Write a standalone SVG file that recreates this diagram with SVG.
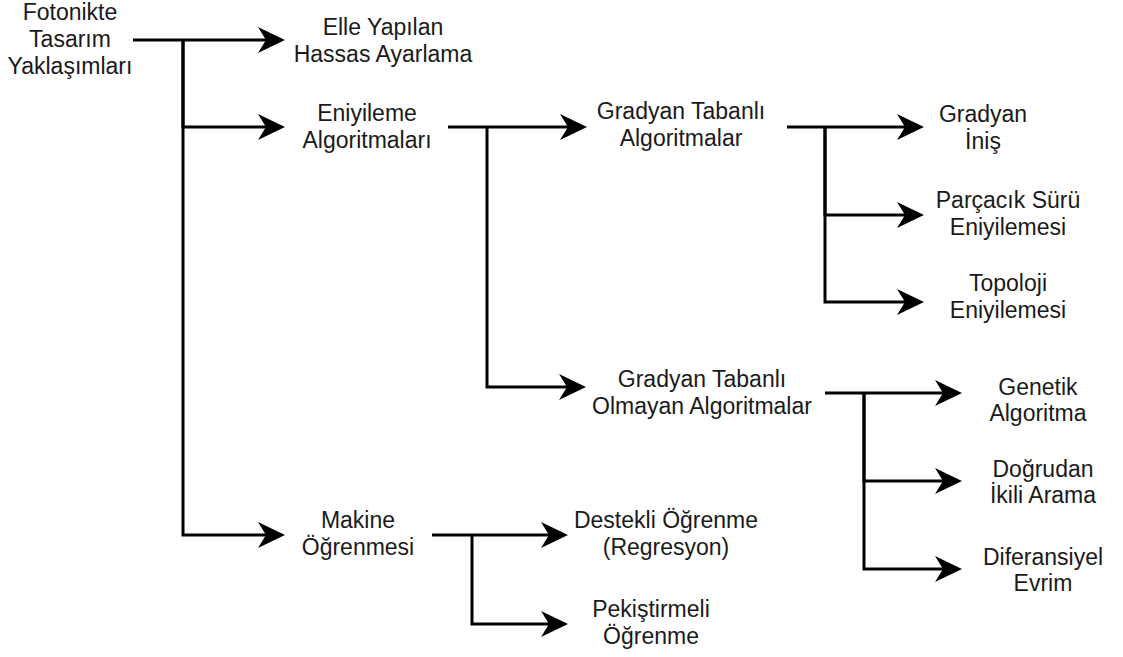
<svg xmlns="http://www.w3.org/2000/svg" width="1123" height="657" viewBox="0 0 1123 657">
<style>
text{font-family:"Liberation Sans",Arial,sans-serif;font-size:23px;fill:#1a1a1a;text-anchor:middle}
.c{fill:none;stroke:#000;stroke-width:3;marker-end:url(#arr)}
</style>
<defs>
<marker id="arr" markerUnits="userSpaceOnUse" markerWidth="28" markerHeight="28" viewBox="0 0 28 28" refX="8" refY="14" orient="auto">
<path d="M0,1 L27,14 L0,27 L8,14 Z" fill="#000"/>
</marker>
</defs>
<rect width="1123" height="657" fill="#fff"/>
<g id="connectors">
<path class="c" d="M133,40 H266"/>
<path class="c" d="M183,40 V127 H266"/>
<path class="c" d="M183,40 V535 H266"/>
<path class="c" d="M448,127 H568"/>
<path class="c" d="M487,127 V387 H567"/>
<path class="c" d="M787,127 H905"/>
<path class="c" d="M825,127 V215 H905"/>
<path class="c" d="M825,127 V302 H905"/>
<path class="c" d="M825,393 H943"/>
<path class="c" d="M864,393 V481 H943"/>
<path class="c" d="M864,393 V569 H943"/>
<path class="c" d="M432,535 H549"/>
<path class="c" d="M472,535 V624 H549"/>
</g>
<g id="root"><text x="70" y="20">Fotonikte</text><text x="70" y="47">Tasarım</text><text x="70" y="74">Yaklaşımları</text></g>
<g id="elle"><text x="383" y="35">Elle Yapılan</text><text x="383" y="62">Hassas Ayarlama</text></g>
<g id="eniyileme"><text x="367" y="121">Eniyileme</text><text x="367" y="148">Algoritmaları</text></g>
<g id="makine"><text x="358" y="528">Makine</text><text x="358" y="555">Öğrenmesi</text></g>
<g id="gta"><text x="681" y="119">Gradyan Tabanlı</text><text x="681" y="146">Algoritmalar</text></g>
<g id="gtoa"><text x="702" y="387">Gradyan Tabanlı</text><text x="702" y="414">Olmayan Algoritmalar</text></g>
<g id="gi"><text x="983" y="122">Gradyan</text><text x="983" y="149">İniş</text></g>
<g id="pso"><text x="1008" y="208">Parçacık Sürü</text><text x="1008" y="235">Eniyilemesi</text></g>
<g id="topo"><text x="1008" y="291">Topoloji</text><text x="1008" y="318">Eniyilemesi</text></g>
<g id="gen"><text x="1038" y="395">Genetik</text><text x="1038" y="421">Algoritma</text></g>
<g id="dog"><text x="1043" y="477">Doğrudan</text><text x="1043" y="503">İkili Arama</text></g>
<g id="dif"><text x="1043" y="565">Diferansiyel</text><text x="1043" y="591">Evrim</text></g>
<g id="dest"><text x="666" y="528">Destekli Öğrenme</text><text x="666" y="555">(Regresyon)</text></g>
<g id="pek"><text x="651" y="617">Pekiştirmeli</text><text x="651" y="644">Öğrenme</text></g>
</svg>
